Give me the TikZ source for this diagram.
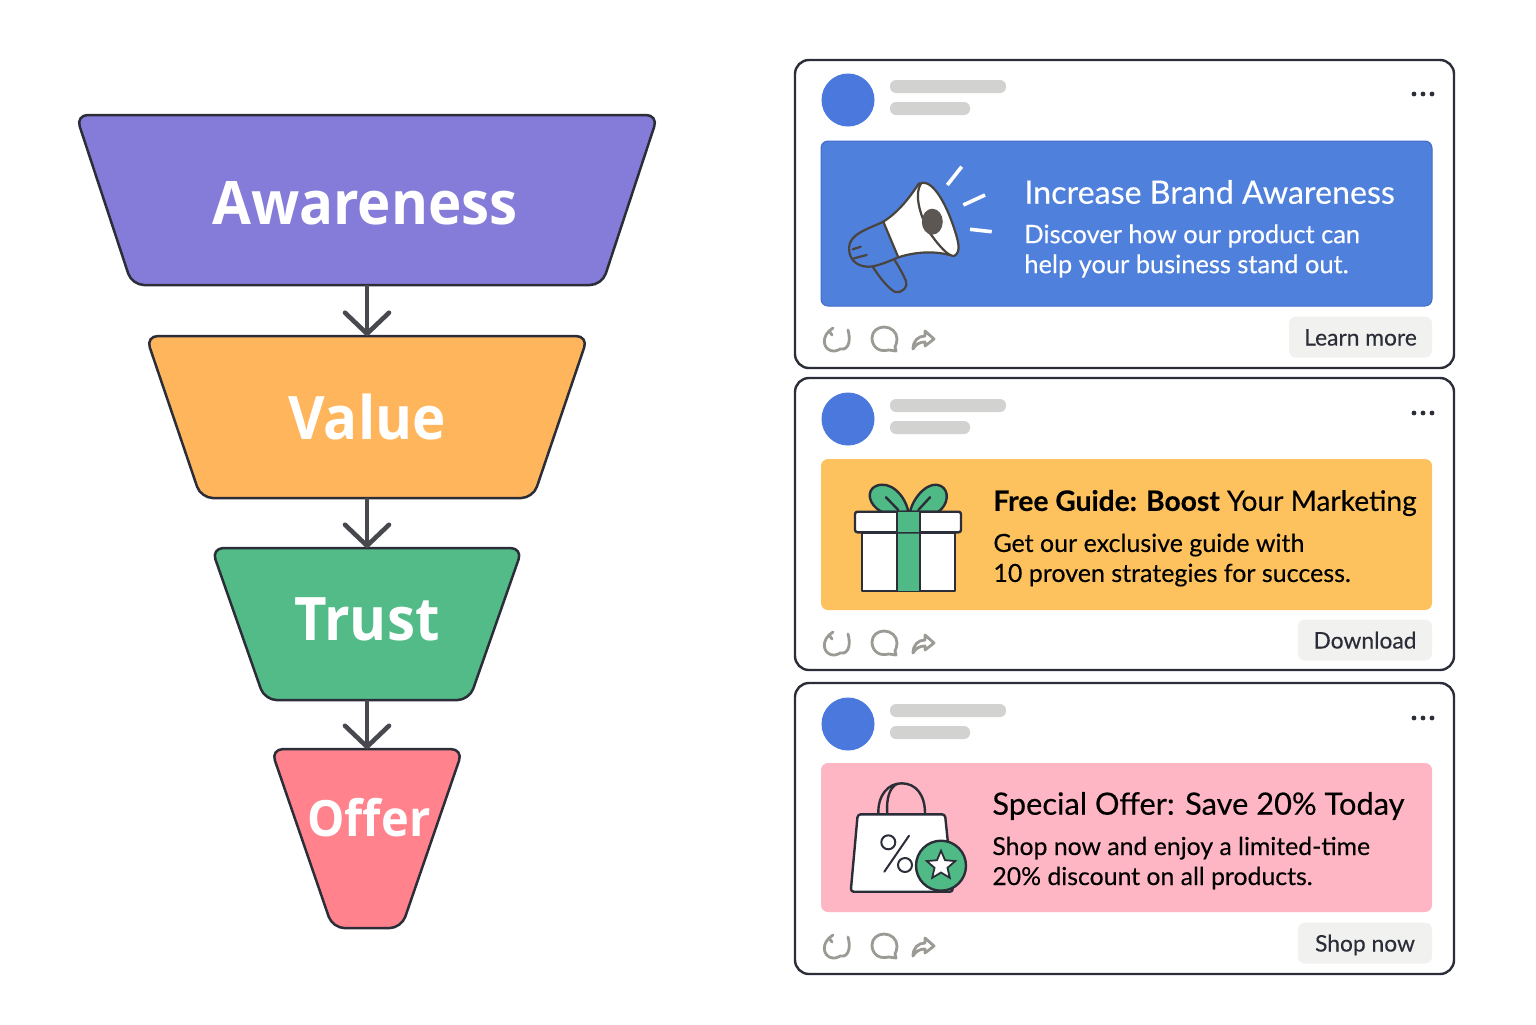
\documentclass[tikz,border=0pt]{standalone}
\usepackage{fontspec}
\setmainfont[FakeBold=0.25]{Lato}
\newfontfamily\stagefont[FakeStretch=0.94]{Open Sans}
\usetikzlibrary{arrows.meta,positioning,shapes.geometric}
\definecolor{inkdark}{HTML}{2B2E38}
\definecolor{arrowgray}{HTML}{48494F}
\definecolor{skel}{HTML}{D2D2D0}
\definecolor{btn}{HTML}{F1F1EF}
\definecolor{actgray}{HTML}{9B9A95}
\definecolor{avblue}{HTML}{4A78DC}
\definecolor{bannerblue}{HTML}{4F80DC}
\definecolor{banneryellow}{HTML}{FDC25E}
\definecolor{bannerpink}{HTML}{FFB6C4}
\definecolor{stagepurple}{HTML}{857BD8}
\definecolor{stageorange}{HTML}{FFB55C}
\definecolor{stagegreen}{HTML}{52BB87}
\definecolor{stagered}{HTML}{FF828C}
\definecolor{icongreen}{HTML}{50BA86}
\definecolor{megaink}{HTML}{4A443F}
\newcommand{\stagebox}{\phantom{\rule{1pt}{1pt}}}
\tikzset{
  stage/.style={trapezium,shape border rotate=180,trapezium stretches=true,draw=inkdark,
    line width=1.25pt,rounded corners=6pt,inner sep=0pt,outer sep=0pt},
  stagetext/.style={text=white,font=\stagefont\bfseries\fontsize{30}{36}\selectfont},
  flow/.style={draw=arrowgray,line width=2pt,-{Straight Barb[length=10.5pt,width=22pt,line width=2.3pt,round]}},
  card/.style={draw=inkdark,line width=1.2pt,fill=white,rounded corners=7pt,
    minimum width=329.5pt,inner sep=0pt},
  banner/.style={rounded corners=3.5pt,minimum width=305.5pt,inner sep=0pt},
  avatar/.style={circle,fill=avblue,minimum size=26.5pt,inner sep=0pt},
  skelbar/.style={fill=skel,rounded corners=3pt,minimum height=6.5pt,inner sep=0pt},
  dot/.style={circle,fill=inkdark,minimum size=2.4pt,inner sep=0pt},
  headline/.style={anchor=west,inner sep=0pt,font=\fontsize{15.4}{18}\selectfont},
  bodyline/.style={anchor=west,inner sep=0pt,align=left,font=\fontsize{12.5}{15}\selectfont},
  actionbtn/.style={fill=btn,rounded corners=3.5pt,minimum height=20.5pt,inner sep=0pt,
    text height=9pt,text depth=0.5pt,text=inkdark,font=\fontsize{11.4}{14}\selectfont},
  action/.style={draw=actgray,line width=1.4pt,line cap=round,line join=round},
  icon/.style={draw=inkdark,line width=1.2pt,line join=round,line cap=round},
  mega/.style={draw=megaink,line width=1.1pt,line join=round,line cap=round},
  ray/.style={draw=white,line width=1.8pt},
}
\begin{document}
\begin{tikzpicture}[x=0.5pt,y=-0.5pt]
  \useasboundingbox[fill=white] (0,0) rectangle (1536,1024);
  % funnel
  \node (awareness) [stage,fill=stagepurple,trapezium angle=83.2,minimum width=291pt,minimum height=85pt] at (367,200) {\stagebox};
  \node (value) [stage,fill=stageorange,trapezium angle=80.6,minimum width=221pt,minimum height=81pt,below=25.5pt of awareness] {\stagebox};
  \node (trust) [stage,fill=stagegreen,trapezium angle=75.4,minimum width=155.5pt,minimum height=76pt,below=25pt of value] {\stagebox};
  \node (offer) [stage,fill=stagered,trapezium angle=48.1,minimum width=96pt,minimum height=89.5pt,below=24.5pt of trust] {\stagebox};
  \node (awarenesstext) [stagetext] at (365,203) {Awareness};
  \node (valuetext) [stagetext] at (367,417) {Value};
  \node (trusttext) [stagetext] at (367,619) {Trust};
  \node (offertext) [stagetext,font=\stagefont\bfseries\fontsize{25}{32}\selectfont] at (369,818) {Offer};
  \draw[flow] (awareness.south) -- (value.north);
  \draw[flow] (value.south) -- (trust.north);
  \draw[flow] (trust.south) -- (offer.north);
  % cards
  \node (card1) [card,minimum height=154pt] at (1124.5,214) {};
  \node (card2) [card,minimum height=146pt] at (1124.5,524) {};
  \node (card3) [card,minimum height=145.5pt] at (1124.5,828.5) {};
  \foreach \n/\yo/\yi in {1/0/0,2/319/304,3/624/607} {
    \node (avatar\n) [avatar] at (848,100+\yo) {};
    \node (skelone\n) [skelbar,minimum width=58pt] at (948,86.5+\yo) {};
    \node (skeltwo\n) [skelbar,minimum width=40pt] at (930,108.5+\yo) {};
    \node (dot\n a) [dot] at (1414,94+\yo) {};
    \node (dot\n b) [dot] at (1423,94+\yo) {};
    \node (dot\n c) [dot] at (1432,94+\yo) {};
    % action icons
    \begin{scope}[shift={(0,\yi)}]
      \draw[action] (829,331) .. controls (820,340) and (825,352) .. (835,351) .. controls (838,351) and (839,349) .. (840,349) .. controls (846,351) and (852,344) .. (848,330);
      \draw[action] (829,331) -- (832,335) (829,331) -- (833,328);
      \draw[action] (889,350) .. controls (876,353) and (872,344) .. (872,338) .. controls (872,331) and (878,327) .. (884,327) .. controls (891,327) and (897,332) .. (897,339) .. controls (897,342) and (896,345) .. (895,347) -- (896,351) -- cycle;
      \draw[action] (913,349) .. controls (913,341) and (918,336) .. (925,336) -- (925,331) -- (934,339) -- (925,346) -- (925,342) .. controls (920,342) and (916,344) .. (913,349) -- cycle;
    \end{scope}
  }
  % banners
  \node (banner1) [banner,fill=bannerblue,draw=avblue!90!black,line width=.5pt,minimum height=82.5pt] at (1126.5,223.5) {};
  \node (banner2) [banner,fill=banneryellow,minimum height=75.5pt] at (1126.5,534.5) {};
  \node (banner3) [banner,fill=bannerpink,minimum height=74.5pt] at (1126.5,837.5) {};
  \node (head1) [headline,text=white,font=\fontsize{16.1}{18}\selectfont] at (1024,192) {Increase Brand Awareness};
  \node (body1) [bodyline,text=white,font=\fontsize{12.7}{15}\selectfont] at (1024,251) {Discover how our product can\\help your business stand out.};
  \node (head2) [headline,font=\fontsize{14.1}{18}\selectfont] at (993,503) {\textbf{Free Guide: Boost} Your Marketing};
  \node (body2) [bodyline] at (993,560) {Get our exclusive guide with\\10 proven strategies for success.};
  \node (head3) [headline] at (992,806) {Special Offer: Save 20\% Today};
  \node (body3) [bodyline,font=\fontsize{12.4}{15}\selectfont] at (992,863) {Shop now and enjoy a limited-time\\20\% discount on all products.};
  \node (btn1) [actionbtn,minimum width=71.5pt] at (1360.5,337) {Learn more};
  \node (btn2) [actionbtn,minimum width=67pt] at (1365,640) {Download};
  \node (btn3) [actionbtn,minimum width=67pt] at (1365,943) {Shop now};
  % megaphone
  \draw[mega,fill=white] (883.3,221.7) .. controls (897,213) and (908,200) .. (919,183.3) -- (950,255) .. controls (930,250) and (912,253) .. (898.3,257.3) -- cycle;
  \draw[mega] (883.3,221.7) .. controls (868,229) and (849,234) .. (849,248) .. controls (849,262) and (860,268) .. (872,266.5) .. controls (880,265) and (890,261) .. (898.3,257.3);
  \draw[mega] (852.7,249.3) -- (860.7,246.7) (854,258.3) -- (866.7,255);
  \draw[mega] (872.7,266.7) .. controls (880,278) and (888,288) .. (895,292) .. controls (903,293) and (908,287) .. (906,281) .. controls (903,274) and (899,267) .. (895,260.7);
  \draw[mega,fill=white] (921.7,182.7) .. controls (934,181) and (946,205) .. (953,225) .. controls (958,240) and (962,252) .. (954,256) .. controls (948,256) and (940,247) .. (930,233.3) .. controls (923,222) and (912,195) .. (921.7,182.7) -- cycle;
  \fill[megaink!90!white] (932.3,221.7) ellipse [x radius=10.5,y radius=13];
  \draw[ray] (947.3,185) -- (961.7,166.7);
  \draw[ray] (963.3,205) -- (985,195);
  \draw[ray] (970,229.3) -- (991.7,231.7);
  % gift
  \draw[icon,fill=white] (861.7,532.3) rectangle (955,590.7);
  \fill[icongreen] (896.7,532.3) rectangle (920,590.7);
  \draw[icon] (896.7,532.3) -- (896.7,590.7) (920,532.3) -- (920,590.7);
  \draw[icon,fill=icongreen] (881.7,511.7) .. controls (868,505) and (866,490) .. (876,486) .. controls (890,480) and (905,495) .. (908.3,511.7) -- cycle;
  \draw[icon,fill=icongreen] (910,511.7) .. controls (914,495) and (930,480) .. (941,486) .. controls (950,491) and (948,505) .. (938.3,511.7) -- cycle;
  \draw[icon] (886,497.3) -- (898.3,510) (930,497.3) -- (918.3,510);
  \draw[icon,fill=white,rounded corners=1.2pt] (855,511.7) rectangle (961,532.3);
  \fill[icongreen] (897.2,512.2) rectangle (919.5,531.8);
  \draw[icon] (896.7,511.7) -- (896.7,532.3) (920,511.7) -- (920,532.3);
  % bag
  \draw[icon] (878.3,813.3) .. controls (878,795) and (888,783.3) .. (901.7,783.3) .. controls (916,783.3) and (925,795) .. (925,813.3);
  \draw[icon] (887.3,813.3) .. controls (886,798) and (890,787) .. (897,784);
  \draw[icon,fill=white,rounded corners=1.5pt] (857.7,814.3) -- (945,814.3) -- (953,891.7) -- (850.7,891.7) -- cycle;
  \draw[icon,line width=1pt] (888.3,842.3) circle [radius=7];
  \draw[icon,line width=1pt] (905,865) circle [radius=7];
  \draw[icon,line width=1pt] (909,835.7) -- (884.3,871.7);
  \node (badge) [circle,draw=inkdark,line width=1.2pt,fill=icongreen,minimum size=25pt,inner sep=0pt] at (941,865.7) {};
  \node (badgestar) [star,star points=5,star point ratio=2.2,draw=inkdark,line width=.9pt,fill=white,minimum size=15pt,inner sep=0pt] at (badge) {};
\end{tikzpicture}
\end{document}
